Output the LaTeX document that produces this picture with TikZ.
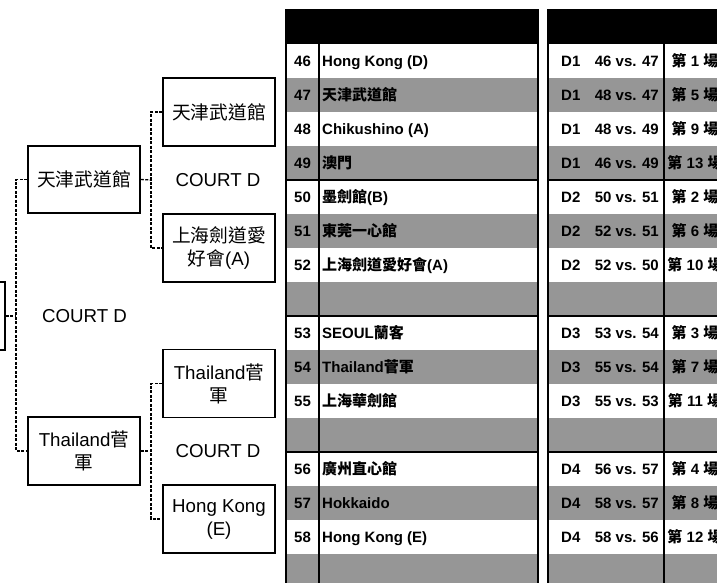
\documentclass[tikz,border=0pt]{standalone}
\usepackage{fontspec}
\setmainfont{Liberation Sans}
\newfontfamily\cjk{Noto Sans CJK TC}
\definecolor{rowgray}{RGB}{150,150,150}
\newcommand\zhs[1]{{\cjk #1}}
\tikzset{
  teambox/.style={draw, line width=1.5pt, minimum width=112pt, minimum height=68pt,
    inner sep=0pt, align=center, font=\fontsize{18.7}{23}\selectfont},
  courtlbl/.style={inner sep=0pt, font=\fontsize{18.7}{23}\selectfont},
  dashlink/.style={line width=1.3pt, dash pattern=on 3pt off 1.5pt},
  tabline/.style={line width=2pt},
  tabtxt/.style={inner sep=0pt, text height=10.7pt, text depth=0pt,
    font=\bfseries\fontsize{15}{18}\selectfont}
}
\newcommand\tabrow[6]{%
  \node[tabtxt, anchor=center] (num#1) at (302.5,{61+34*#1}) {#2};
  \node[tabtxt, anchor=west] (team#1) at (322,{61+34*#1}) {#3};
  \node[tabtxt, anchor=west] (div#1) at (561,{61+34*#1}) {#4};
  \node[tabtxt, anchor=east] (vs#1) at (659,{61+34*#1}) {#5};
  \node[tabtxt, anchor=center] (game#1) at (695,{61+34*#1}) {#6};
}
\begin{document}
\begin{tikzpicture}[x=1pt,y=-1pt]
\useasboundingbox (0,0) rectangle (717,582);
\clip (0,0) rectangle (717,582);

% ---- tables: backgrounds
\fill[black] (286,9) rectangle (538,44);
\fill[black] (548,9) rectangle (730,44);
\foreach \i in {1,3,5,7,9,11,13,15}{
  \fill[rowgray] (286,{44+34*\i}) rectangle (538,{78+34*\i});
  \fill[rowgray] (548,{44+34*\i}) rectangle (730,{78+34*\i});
}
% ---- table rules
\draw[tabline] (286,9) -- (286,600);
\draw[tabline] (318.5,44) -- (318.5,600);
\draw[tabline] (538,9) -- (538,600);
\draw[tabline] (548,9) -- (548,600);
\draw[tabline] (664,44) -- (664,600);
\foreach \yy in {180,316,452}{
  \draw[tabline] (286,\yy) -- (538,\yy);
  \draw[tabline] (548,\yy) -- (730,\yy);
}
% ---- table texts
\tabrow{0}{46}{Hong Kong (D)}{D1}{46 vs. 47}{\zhs{第} 1 \zhs{場}}
\tabrow{1}{47}{\zhs{天津武道館}}{D1}{48 vs. 47}{\zhs{第} 5 \zhs{場}}
\tabrow{2}{48}{Chikushino (A)}{D1}{48 vs. 49}{\zhs{第} 9 \zhs{場}}
\tabrow{3}{49}{\zhs{澳門}}{D1}{46 vs. 49}{\zhs{第} 13 \zhs{場}}
\tabrow{4}{50}{\zhs{墨劍館}(B)}{D2}{50 vs. 51}{\zhs{第} 2 \zhs{場}}
\tabrow{5}{51}{\zhs{東莞一心館}}{D2}{52 vs. 51}{\zhs{第} 6 \zhs{場}}
\tabrow{6}{52}{\zhs{上海劍道愛好會}(A)}{D2}{52 vs. 50}{\zhs{第} 10 \zhs{場}}
\tabrow{8}{53}{SEOUL\zhs{蘭客}}{D3}{53 vs. 54}{\zhs{第} 3 \zhs{場}}
\tabrow{9}{54}{Thailand\zhs{菅軍}}{D3}{55 vs. 54}{\zhs{第} 7 \zhs{場}}
\tabrow{10}{55}{\zhs{上海華劍館}}{D3}{55 vs. 53}{\zhs{第} 11 \zhs{場}}
\tabrow{12}{56}{\zhs{廣州直心館}}{D4}{56 vs. 57}{\zhs{第} 4 \zhs{場}}
\tabrow{13}{57}{Hokkaido}{D4}{58 vs. 57}{\zhs{第} 8 \zhs{場}}
\tabrow{14}{58}{Hong Kong (E)}{D4}{58 vs. 56}{\zhs{第} 12 \zhs{場}}

% ---- bracket boxes
\node[teambox] (b1) at (219,112) {\zhs{天津武道館}};
\node[teambox] (b2) at (219,248) {\zhs{上海劍道愛}\\\zhs{好會}(A)};
\node[teambox, minimum height=67pt] (a1) at (84,179.5) {\zhs{天津武道館}};
\node[teambox] (t1) at (219,383.5) {Thailand\zhs{菅}\\\zhs{軍}};
\node[teambox] (h1) at (219,519) {Hong Kong\\(E)};
\node[teambox] (a2) at (84,451) {Thailand\zhs{菅}\\\zhs{軍}};
\node[teambox, minimum width=40pt] (f0) at (-15,316) {};

\node[courtlbl] (c1) at (218,180) {COURT D};
\node[courtlbl] (c0) at (84.5,316) {COURT D};
\node[courtlbl] (c2) at (218,451) {COURT D};

% ---- connectors
\coordinate (j1) at (151,180);
\coordinate (j2) at (16,316);
\coordinate (j3) at (151,451);
\draw[dashlink] (b1.west) -| (j1) |- (b2.west);
\draw[dashlink] (a1.east) -- (j1);
\draw[dashlink] (a1.west) -| (j2) |- (a2.west);
\draw[dashlink] (f0.east) -- (j2);
\draw[dashlink] (t1.west) -| (j3) |- (h1.west);
\draw[dashlink] (a2.east) -- (j3);
\end{tikzpicture}
\end{document}
